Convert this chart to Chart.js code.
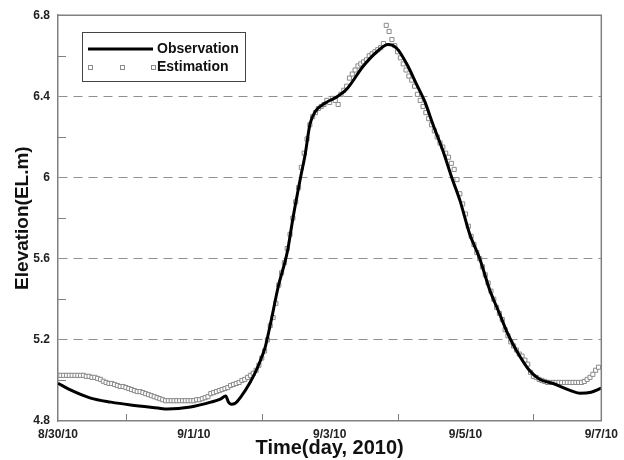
<!DOCTYPE html>
<html>
<head>
<meta charset="utf-8">
<script src="https://cdn.jsdelivr.net/npm/chart.js@4.4.1/dist/chart.umd.min.js"></script>
<style>
html,body{margin:0;padding:0;background:#fff}
</style>
</head>
<body>
<canvas id="myChart" width="624" height="460"></canvas>
<script>
// time in days since 8/30/10 00:00
const xTickLabels = ["8/30/10", "9/1/10", "9/3/10", "9/5/10", "9/7/10"]
const yTickLabels = ["4.8", "5.2", "5.6", "6", "6.4", "6.8"]
const xMinorDays = [1, 3, 5, 7]
const yMinorVals = [5.0, 5.4, 5.8, 6.2, 6.6]

// observed water level (black line)
const obsDay = [0, 0.19, 0.48, 0.78, 1.07, 1.47, 1.61, 1.95, 2.25, 2.39,
  2.47, 2.51, 2.55, 2.61, 2.69, 2.83, 2.94, 3.01, 3.05, 3.13,
  3.24, 3.38, 3.46, 3.57, 3.64, 3.71, 3.79, 3.93, 4.12, 4.26,
  4.49, 4.70, 4.86, 4.99, 5.14, 5.28, 5.40, 5.52, 5.67, 5.80,
  5.92, 6.06, 6.21, 6.36, 6.50, 6.62, 6.75, 6.94, 7.09, 7.28,
  7.53, 7.68, 7.85, 8.0]
const obsElev = [4.986, 4.952, 4.913, 4.893, 4.879, 4.864, 4.859, 4.869, 4.893, 4.908,
  4.923, 4.893, 4.883, 4.888, 4.918, 4.991, 5.065, 5.124, 5.163, 5.281,
  5.458, 5.639, 5.801, 5.998, 6.115, 6.263, 6.326, 6.366, 6.400, 6.439,
  6.547, 6.621, 6.655, 6.636, 6.557, 6.459, 6.375, 6.263, 6.130, 5.998,
  5.885, 5.723, 5.600, 5.443, 5.330, 5.232, 5.148, 5.050, 5.006, 4.986,
  4.952, 4.937, 4.942, 4.962]

// estimated level, one value per hour from 8/30/10 00:00
const estElev = [5.025, 5.025, 5.025, 5.025, 5.025, 5.025, 5.025, 5.025, 5.025, 5.025,
  5.02, 5.02, 5.015, 5.015, 5.01, 5.005,
  4.996, 4.99, 4.985, 4.985, 4.98, 4.975, 4.97, 4.97,
  4.965, 4.96, 4.955, 4.95, 4.945, 4.945, 4.94, 4.935,
  4.93, 4.925, 4.92, 4.915, 4.91, 4.905,
  4.9, 4.9, 4.9, 4.9, 4.9, 4.9, 4.9, 4.9, 4.9, 4.9, 4.9,
  4.905, 4.905, 4.91, 4.915, 4.92, 4.935, 4.94,
  4.945, 4.95, 4.955, 4.96, 4.965, 4.975, 4.98, 4.985,
  4.99, 5.0, 5.005, 5.015, 5.025, 5.035, 5.05, 5.075,
  5.11, 5.145, 5.2, 5.27, 5.31, 5.38, 5.47, 5.53,
  5.58, 5.65, 5.72, 5.8, 5.88, 5.95, 6.05, 6.12,
  6.19, 6.26, 6.3, 6.32, 6.34, 6.35, 6.36, 6.38,
  6.37, 6.39, 6.38, 6.36, 6.41, 6.43, 6.45, 6.49,
  6.51, 6.53, 6.55, 6.56, 6.57, 6.58, 6.6, 6.61,
  6.62, 6.63, 6.64, 6.66, 6.75, 6.72, 6.68, 6.65,
  6.62, 6.59, 6.56, 6.53, 6.5, 6.48, 6.45, 6.41,
  6.38, 6.35, 6.32, 6.29, 6.26, 6.23, 6.2, 6.17,
  6.15, 6.12, 6.1, 6.07, 6.04, 5.99, 5.92, 5.87,
  5.82, 5.76, 5.71, 5.67, 5.63, 5.6, 5.56, 5.52,
  5.48, 5.44, 5.4, 5.36, 5.33, 5.3, 5.25, 5.22,
  5.19, 5.17, 5.15, 5.13, 5.12, 5.1, 5.08, 5.04,
  5.02, 5.015, 5.005, 5.0, 4.995, 4.99, 4.99, 4.99,
  4.99, 4.99, 4.99, 4.99, 4.99, 4.99, 4.99, 4.99,
  4.99, 4.99, 4.995, 5.005, 5.015, 5.03, 5.05, 5.065]

const FONT = "'Liberation Sans', Arial, sans-serif"
const axisGray = "#808080"
const estStroke = "#8a8a8a"

const obsPoints = obsDay.map((d, i) => ({x: d, y: obsElev[i]}))
const estPoints = estElev.map((v, h) => ({x: h / 24, y: v}))

function drawSquare(ctx, x, y){
  ctx.fillStyle = "#fff"
  ctx.strokeStyle = estStroke
  ctx.lineWidth = 1
  ctx.fillRect(x - 2, y - 2, 4, 4)
  ctx.strokeRect(x - 2, y - 2, 4, 4)
}

// frame on top/right, inward minor ticks, legend box
const extras = {
  id: "extras",
  afterDraw(chart){
    const {ctx, chartArea: a, scales} = chart
    ctx.save()
    ctx.strokeStyle = axisGray
    ctx.lineWidth = 1.5
    ctx.beginPath()
    ctx.moveTo(a.left, a.top)
    ctx.lineTo(a.right, a.top)
    ctx.lineTo(a.right, a.bottom)
    ctx.stroke()

    ctx.lineWidth = 1
    ctx.beginPath()
    yMinorVals.forEach(v => {
      const py = Math.round(scales.y.getPixelForValue(v)) + 0.5
      ctx.moveTo(a.left, py); ctx.lineTo(a.left + 8, py)
    })
    xMinorDays.forEach(d => {
      const px = Math.round(scales.x.getPixelForValue(d)) + 0.5
      ctx.moveTo(px, a.bottom); ctx.lineTo(px, a.bottom - 7)
    })
    ctx.stroke()

    // legend
    ctx.fillStyle = "#fff"
    ctx.fillRect(82, 32, 163, 49)
    ctx.strokeStyle = "#444"
    ctx.lineWidth = 1
    ctx.strokeRect(82.5, 32.5, 163, 49)
    ctx.strokeStyle = "#000"
    ctx.lineWidth = 3
    ctx.beginPath()
    ctx.moveTo(88, 49); ctx.lineTo(153, 49)
    ctx.stroke()
    ;[90, 122, 153].forEach(px => drawSquare(ctx, px + 0.5, 67.5))
    ctx.fillStyle = "#111"
    ctx.font = "bold 14px " + FONT
    ctx.textBaseline = "middle"
    ctx.fillText("Observation", 157, 49)
    ctx.fillText("Estimation", 157, 67)
    ctx.restore()
  }
}

const config = {
  type: "scatter",
  data: {
    datasets: [
      {
        label: "Observation",
        data: obsPoints,
        showLine: true,
        borderColor: "#000",
        borderWidth: 3,
        pointRadius: 0,
        cubicInterpolationMode: "monotone",
        order: 0
      },
      {
        label: "Estimation",
        data: estPoints,
        showLine: false,
        pointStyle: "rect",
        pointRadius: 2.9,
        borderWidth: 1,
        borderColor: estStroke,
        backgroundColor: "#fff",
        order: 1
      }
    ]
  },
  options: {
    responsive: false,
    animation: false,
    layout: {padding: {top: 13, right: 22, left: 0, bottom: 0}},
    plugins: {legend: {display: false}, tooltip: {enabled: false}},
    scales: {
      x: {
        type: "linear",
        min: 0, max: 8,
        afterFit: s => { s.height = 39 },
        ticks: {
          stepSize: 2,
          autoSkip: false,
          maxRotation: 0,
          padding: 6,
          color: "#222",
          font: {family: FONT, size: 12, weight: "bold"},
          callback: (v, i) => xTickLabels[i]
        },
        grid: {display: false, drawTicks: false},
        border: {display: true, color: axisGray, width: 1.5},
        title: {
          display: true,
          text: "Time(day, 2010)",
          color: "#111",
          font: {family: FONT, size: 20, weight: "bold"},
          padding: {top: 0, bottom: 0}
        }
      },
      y: {
        min: 4.8, max: 6.8,
        afterFit: s => { s.width = 58 },
        ticks: {
          stepSize: 0.4,
          padding: 8,
          color: "#222",
          font: {family: FONT, size: 12, weight: "bold"},
          callback: (v, i) => yTickLabels[i]
        },
        grid: {
          drawTicks: false,
          lineWidth: 1,
          color: c => (c.tick && c.tick.value > 4.85 && c.tick.value < 6.75) ? "#909090" : "rgba(0,0,0,0)"
        },
        border: {display: true, color: axisGray, width: 1.5, dash: [9, 6]},
        title: {
          display: true,
          text: "Elevation(EL.m)",
          color: "#111",
          font: {family: FONT, size: 19, weight: "bold"},
          padding: {top: 11, bottom: 0}
        }
      }
    }
  },
  plugins: [extras]
}

const myChart = document.getElementById("myChart")
new Chart(myChart, config)
</script>
</body>
</html>
